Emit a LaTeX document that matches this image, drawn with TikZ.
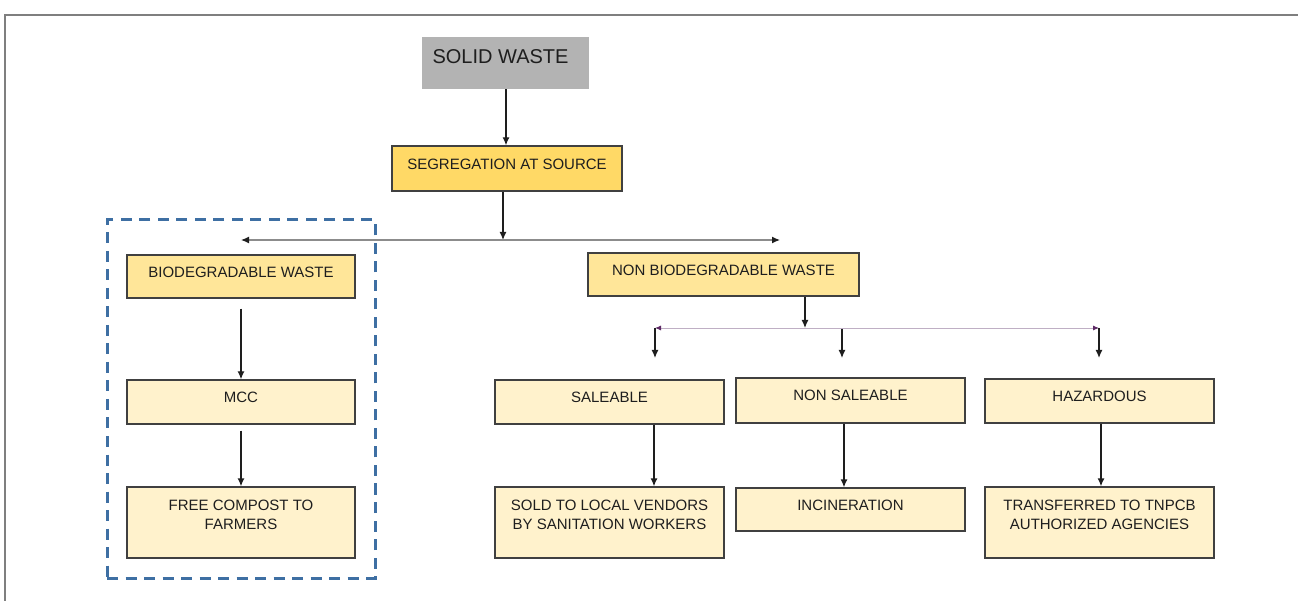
\documentclass[tikz,border=0pt]{standalone}
\usepackage{fontspec}
\setmainfont{Liberation Sans}
\usetikzlibrary{arrows.meta}
\definecolor{swgray}{HTML}{B3B3B3}
\definecolor{gold}{HTML}{FFD966}
\definecolor{lgold}{HTML}{FFE699}
\definecolor{cream}{HTML}{FFF2CC}
\definecolor{edgec}{HTML}{404040}
\definecolor{dblue}{HTML}{3E6FA3}
\definecolor{lilac}{HTML}{BFAFC4}
\definecolor{purptip}{HTML}{5E2A66}
\definecolor{framec}{HTML}{7F7F7F}
\definecolor{txt}{HTML}{1E1E1E}
\begin{document}
\begin{tikzpicture}[x=1pt,y=-1pt,
  box/.style={draw=edgec, line width=1.3pt, inner sep=0pt, rectangle},
  lbl/.style={anchor=base, inner sep=0pt, font=\fontsize{15}{19}\selectfont, text=txt},
  arr/.style={line width=1.3pt, draw=txt, -{Latex[length=8pt,width=7pt,color=txt]}},
  grayline/.style={line width=1.2pt, draw=black!45, -{Latex[length=8pt,width=7pt,color=txt]}},
  purpline/.style={line width=0.9pt, draw=lilac, {Latex[length=6pt,width=5pt,color=purptip]}-{Latex[length=6pt,width=5pt,color=purptip]}},
  grpbox/.style={draw=dblue, line width=3pt, dash pattern=on 11pt off 7.5pt, inner sep=0pt, rectangle}
]
\useasboundingbox[fill=white] (0,0) rectangle (1299,601);

% frame
\draw[framec, line width=1.6pt] (5,601) -- (5,15) -- (1298,15);

% group
\node[grpbox, minimum width=268pt, minimum height=358pt] (grp) at (241,399) {};

% boxes
\node[fill=swgray, inner sep=0pt, minimum width=167pt, minimum height=52pt] (sw) at (505.5,63) {};
\node[box, fill=gold, minimum width=230pt, minimum height=45pt] (seg) at (507,168.5) {};
\node[box, fill=lgold, minimum width=228pt, minimum height=43pt] (bio) at (241,276.5) {};
\node[box, fill=lgold, minimum width=271pt, minimum height=43pt] (nonbio) at (723.5,274.5) {};
\node[box, fill=cream, minimum width=228pt, minimum height=44pt] (mcc) at (241,402) {};
\node[box, fill=cream, minimum width=228pt, minimum height=71pt] (free) at (241,522.5) {};
\node[box, fill=cream, minimum width=229pt, minimum height=44pt] (sale) at (609.5,402) {};
\node[box, fill=cream, minimum width=229pt, minimum height=45pt] (nsale) at (850.5,400.5) {};
\node[box, fill=cream, minimum width=229pt, minimum height=44pt] (haz) at (1099.5,401) {};
\node[box, fill=cream, minimum width=229pt, minimum height=71pt] (sold) at (609.5,522.5) {};
\node[box, fill=cream, minimum width=229pt, minimum height=43pt] (inc) at (850.5,509.5) {};
\node[box, fill=cream, minimum width=229pt, minimum height=71pt] (trans) at (1099.5,522.5) {};

% labels
\node[lbl, font=\fontsize{20}{24}\selectfont] (tsw) at (500.5,64) {SOLID WASTE};
\node[lbl] (tseg) at (507,169.4) {SEGREGATION AT SOURCE};
\node[lbl] (tbio) at (241,277.4) {BIODEGRADABLE WASTE};
\node[lbl] (tnonbio) at (723.5,275.4) {NON BIODEGRADABLE WASTE};
\node[lbl] (tmcc) at (241,402.4) {MCC};
\node[lbl] (tfree) at (241,510.4) {\begin{tabular}[t]{@{}c@{}}FREE COMPOST TO\\FARMERS\end{tabular}};
\node[lbl] (tsale) at (609.5,402.4) {SALEABLE};
\node[lbl] (tnsale) at (850.5,400.4) {NON SALEABLE};
\node[lbl] (thaz) at (1099.5,401.4) {HAZARDOUS};
\node[lbl] (tsold) at (609.5,510.4) {\begin{tabular}[t]{@{}c@{}}SOLD TO LOCAL VENDORS\\BY SANITATION WORKERS\end{tabular}};
\node[lbl] (tinc) at (850.5,510.4) {INCINERATION};
\node[lbl] (ttrans) at (1099.5,510.4) {\begin{tabular}[t]{@{}c@{}}TRANSFERRED TO TNPCB\\AUTHORIZED AGENCIES\end{tabular}};

% junction coordinates
\coordinate (j1) at (503,240);
\coordinate (jL) at (241,240);
\coordinate (jR) at (780,240);
\coordinate (j2) at (805,328);
\coordinate (pL) at (655,328);
\coordinate (pR) at (1099,328);
\coordinate (mM) at (842,329);
\coordinate (aL) at (655,358);
\coordinate (aM) at (842,358);
\coordinate (aR) at (1099,358);
\coordinate (cS) at (654,0);
\coordinate (cN) at (844,0);
\coordinate (cH) at (1101,0);

% connectors
\draw[arr] (sw.south -| 506,0) -- (seg.north -| 506,0);
\draw[arr] (seg.south -| j1) -- (j1);
\draw[grayline] (j1) -- (jL);
\draw[grayline] (j1) -- (jR);
\draw[arr, shorten <=10pt] (bio.south) -- (mcc.north);
\draw[arr, shorten <=6pt] (mcc.south) -- (free.north);
\draw[arr] (nonbio.south -| j2) -- (j2);
\draw[purpline] (pL) -- (pR);
\draw[arr] (pL) -- (aL);
\draw[arr] (mM) -- (aM);
\draw[arr] (pR) -- (aR);
\draw[arr] (sale.south -| cS) -- (sold.north -| cS);
\draw[arr] (nsale.south -| cN) -- (inc.north -| cN);
\draw[arr] (haz.south -| cH) -- (trans.north -| cH);
\end{tikzpicture}
\end{document}
